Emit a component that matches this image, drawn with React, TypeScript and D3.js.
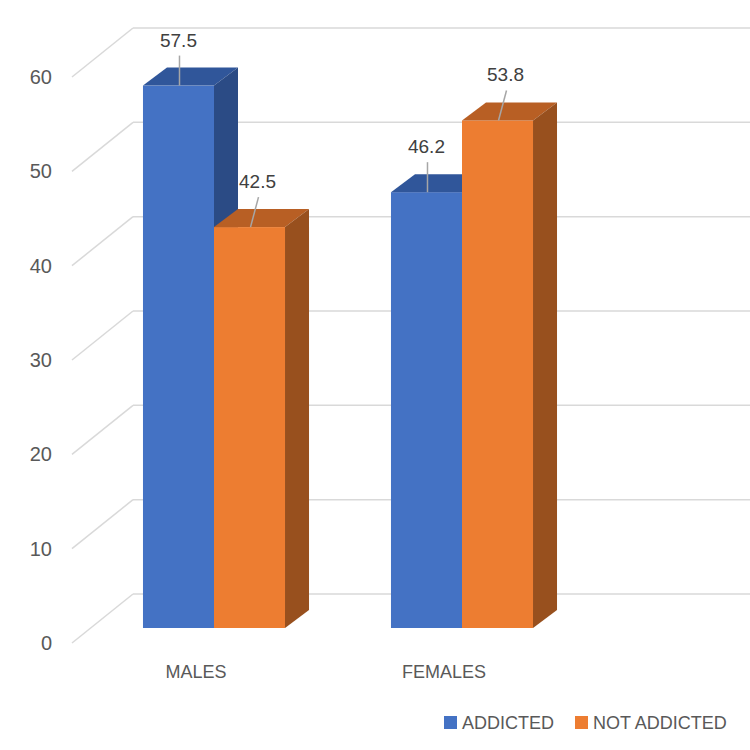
import * as d3 from 'd3';

const categories = ['MALES', 'FEMALES'];
const seriesNames = ['ADDICTED', 'NOT ADDICTED'];
const addicted = [57.5, 46.2];
const notAddicted = [42.5, 53.8];
const yTicks = [0, 10, 20, 30, 40, 50, 60];

const W = 750;
const H = 750;
const FONT = '"Liberation Sans", Arial, sans-serif';

// face colours: front, top, side
const palette = [
  { front: '#4472C4', top: '#30569A', side: '#2B4B85' },
  { front: '#ED7D31', top: '#B85F24', side: '#98501E' },
];

// bar depth and back wall offsets
const barDx = 24;
const barDy = -18;
const wallFrontX = 72;
const wallBackX = 133;
const labelDrop = 15;
const wallDy = -34;

export default function App() {
  const y = d3.scaleLinear().domain([0, 60]).range([628, 62]);
  const x0 = d3.scaleBand().domain(categories).range([90, 586]).paddingInner(0).paddingOuter(0);
  const x1 = d3
    .scaleBand()
    .domain(seriesNames)
    .range([0, x0.bandwidth()])
    .paddingInner(0)
    .paddingOuter(0.746);

  const bars = categories.flatMap((c, ci) =>
    [addicted[ci], notAddicted[ci]].map((v, si) => ({ c, si, v }))
  );

  return (
    <div style={{ position: 'absolute', left: 0, top: 0 }}>
      <svg width={W} height={H} style={{ display: 'block', background: '#fff' }}>
        {/* back wall gridlines */}
        {yTicks.map((t) => (
          <g key={t}>
            <line
              x1={wallFrontX}
              y1={y(t) + labelDrop}
              x2={wallBackX}
              y2={y(t) + wallDy}
              stroke="#d9d9d9"
              strokeWidth={1.5}
            />
            <line
              x1={wallBackX}
              y1={y(t) + wallDy}
              x2={W}
              y2={y(t) + wallDy}
              stroke="#d9d9d9"
              strokeWidth={1.5}
            />
            <text
              x={52}
              y={y(t) + labelDrop + 7}
              textAnchor="end"
              fontFamily={FONT}
              fontSize={20}
              fill="#595959"
            >
              {t}
            </text>
          </g>
        ))}

        {/* 3D bars */}
        {bars.map((b) => {
          const x = x0(b.c)! + x1(seriesNames[b.si])!;
          const w = x1.bandwidth();
          const top = y(b.v);
          const base = y(0);
          const col = palette[b.si];
          const topFace = [
            [x, top],
            [x + w, top],
            [x + w + barDx, top + barDy],
            [x + barDx, top + barDy],
          ];
          const sideFace = [
            [x + w, top],
            [x + w + barDx, top + barDy],
            [x + w + barDx, base + barDy],
            [x + w, base],
          ];
          return (
            <g key={`${b.c}-${b.si}`}>
              <rect x={x} y={top} width={w} height={base - top} fill={col.front} />
              <polygon points={topFace.map((p) => p.join(',')).join(' ')} fill={col.top} />
              <polygon points={sideFace.map((p) => p.join(',')).join(' ')} fill={col.side} />
            </g>
          );
        })}

        {/* value labels with leader lines */}
        {bars.map((b) => {
          const cx = x0(b.c)! + x1(seriesNames[b.si])! + x1.bandwidth() / 2;
          const top = y(b.v);
          const lx = cx + (b.si === 1 ? 8 : 0);
          const ly = top - 46;
          return (
            <g key={`lbl-${b.c}-${b.si}`}>
              <line x1={lx + 1} y1={ly + 16} x2={cx + 1} y2={top} stroke="#a6a6a6" strokeWidth={1.5} />
              <text
                x={lx}
                y={ly + 7}
                textAnchor="middle"
                fontFamily={FONT}
                fontSize={19}
                fill="#404040"
              >
                {b.v}
              </text>
            </g>
          );
        })}

        {/* category labels */}
        {categories.map((c) => (
          <text
            key={c}
            x={x0(c)! + x0.bandwidth() / 2 - 18}
            y={678}
            textAnchor="middle"
            fontFamily={FONT}
            fontSize={18}
            fill="#595959"
          >
            {c}
          </text>
        ))}

        {/* legend */}
        {seriesNames.map((s, i) => {
          const lx = i === 0 ? 444 : 575;
          return (
            <g key={s} transform={`translate(${lx},716)`}>
              <rect width={13} height={13} fill={palette[i].front} />
              <text x={18} y={13} fontFamily={FONT} fontSize={18} fill="#595959">
                {s}
              </text>
            </g>
          );
        })}
      </svg>
    </div>
  );
}
